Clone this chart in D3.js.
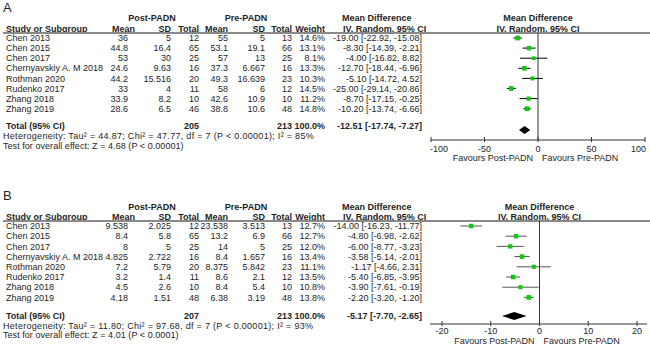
<!DOCTYPE html>
<html><head><meta charset="utf-8">
<script src="https://cdn.jsdelivr.net/npm/d3@7"></script>
<style>
body{margin:0;background:#fff}
text{font-family:"Liberation Sans",Arial,sans-serif;fill:#1e1e1e;font-size:9px}
.het{letter-spacing:0.3px}
.tst{letter-spacing:0.05px}
</style>
</head><body><svg id="c" width="650" height="346"></svg>
<script>
// ---------- data ----------
const studies = ["Chen 2013","Chen 2015","Chen 2017","Chernyavskiy A. M 2018","Rothman 2020","Rudenko 2017","Zhang 2018","Zhang 2019"];

// Panel A
const postMeanA = ["36","44.8","53","24.6","44.2","33","33.9","28.6"];
const postSdA   = ["5","16.4","30","9.63","15.516","4","8.2","6.5"];
const postNA    = [12,65,25,16,20,11,10,46];
const preMeanA  = ["55","53.1","57","37.3","49.3","58","42.6","38.8"];
const preSdA    = ["5","19.1","13","6.667","16.639","6","10.9","10.6"];
const preNA     = [13,66,25,16,23,12,10,48];
const weightA   = [14.6,13.1,8.1,13.3,10.3,14.5,11.2,14.8];
const mdA       = [-19.00,-8.30,-4.00,-12.70,-5.10,-25.00,-8.70,-10.20];
const lowA      = [-22.92,-14.39,-16.82,-18.44,-14.72,-29.14,-17.15,-13.74];
const highA     = [-15.08,-2.21,8.82,-6.96,4.52,-20.86,-0.25,-6.66];
const totalA    = {post:205, pre:213, weight:100.0, md:-12.51, low:-17.74, high:-7.27};
const hetA      = "Heterogeneity: Tau\u00b2 = 44.87; Chi\u00b2 = 47.77, df = 7 (P < 0.00001); I\u00b2 = 85%";
const testA     = "Test for overall effect: Z = 4.68 (P < 0.00001)";
const ticksA    = [-100,-50,0,50,100];

// Panel B
const postMeanB = ["9.538","8.4","8","4.825","7.2","3.2","4.5","4.18"];
const postSdB   = ["2.025","5.8","5","2.722","5.79","1.4","2.6","1.51"];
const postNB    = [12,65,25,16,20,11,10,48];
const preMeanB  = ["23.538","13.2","14","8.4","8.375","8.6","8.4","6.38"];
const preSdB    = ["3.513","6.9","5","1.657","5.842","2.1","5.4","3.19"];
const preNB     = [13,66,25,16,23,12,10,48];
const weightB   = [12.7,12.7,12.0,13.4,11.1,13.5,10.8,13.8];
const mdB       = [-14.00,-4.80,-6.00,-3.58,-1.17,-5.40,-3.90,-2.20];
const lowB      = [-16.23,-6.98,-8.77,-5.14,-4.66,-6.85,-7.61,-3.20];
const highB     = [-11.77,-2.62,-3.23,-2.01,2.31,-3.95,-0.19,-1.20];
const totalB    = {post:207, pre:213, weight:100.0, md:-5.17, low:-7.70, high:-2.65};
const hetB      = "Heterogeneity: Tau\u00b2 = 11.80; Chi\u00b2 = 97.68, df = 7 (P < 0.00001); I\u00b2 = 93%";
const testB     = "Test for overall effect: Z = 4.01 (P < 0.0001)";
const ticksB    = [-20,-10,0,10,20];

// ---------- drawing ----------
const svg = d3.select("#c");
const f2 = v => v.toFixed(2);
const ciText = (m,l,h) => `${f2(m)} [${f2(l)}, ${f2(h)}]`;

function panel(c){
  const g = svg.append("g").attr("transform",`translate(0,${c.y0})`);
  const x = d3.scaleLinear().domain(c.domain).range(c.range);
  const rows = d3.range(studies.length).map(i=>({
    study:studies[i], pm:c.pm[i], ps:c.ps[i], pn:c.pn[i], qm:c.qm[i], qs:c.qs[i], qn:c.qn[i],
    w:c.w[i], md:c.md[i], lo:c.lo[i], hi:c.hi[i]}));
  const y = d3.scaleLinear().domain([0,studies.length-1]).range([c.rowTop, c.rowTop+(studies.length-1)*c.step]);

  g.append("text").attr("x",3).attr("y",c.labelY).attr("dy","0.35em").style("font-size","13px").text(c.label);

  const hb = (t,xx,yy,anchor)=>g.append("text").attr("x",xx).attr("y",yy).attr("dy","0.35em")
      .attr("text-anchor",anchor).style("font-weight","bold").text(t);
  hb("Post-PADN",152,c.grpY,"middle");
  hb("Pre-PADN",246,c.grpY,"middle");
  hb("Mean Difference",342,c.grpY,"start");
  hb("Mean Difference",x(0),c.grpY,"middle");
  hb("Study or Subgroup",6,c.colY,"start");
  hb("Mean",135,c.colY,"end");
  hb("SD",171,c.colY,"end");
  hb("Total",199,c.colY,"end");
  hb("Mean",228,c.colY,"end");
  hb("SD",265,c.colY,"end");
  hb("Total",292,c.colY,"end");
  hb("Weight",325,c.colY,"end");
  hb("IV, Random, 95% CI",343,c.colY,"start");
  hb("IV, Random, 95% CI",x(0),c.colY,"middle");

  g.append("line").attr("x1",3).attr("x2",650).attr("y1",c.lineY).attr("y2",c.lineY)
    .attr("stroke","#8a8a8a").attr("stroke-width",1.8);

  const cols = [
    {k:"pm",x:128},{k:"ps",x:171},{k:"pn",x:199},{k:"qm",x:228},{k:"qs",x:265},{k:"qn",x:292}
  ];
  const rg = g.selectAll("g.row").data(rows).join("g").attr("class","row");
  rg.append("text").attr("x",6).attr("y",(d,i)=>y(i)).attr("dy","0.35em").text(d=>d.study);
  cols.forEach(cc=>{
    rg.append("text").attr("x",cc.x).attr("y",(d,i)=>y(i)).attr("dy","0.35em").attr("text-anchor","end").text(d=>d[cc.k]);
  });
  rg.append("text").attr("x",325).attr("y",(d,i)=>y(i)).attr("dy","0.35em").attr("text-anchor","end").text(d=>d.w.toFixed(1)+"%");
  rg.append("text").attr("x",422).attr("y",(d,i)=>y(i)).attr("dy","0.35em").attr("text-anchor","end").text(d=>ciText(d.md,d.lo,d.hi));

  // zero line
  g.append("line").attr("x1",x(0)).attr("x2",x(0)).attr("y1",c.lineY).attr("y2",c.axisY).attr("stroke","#333").attr("stroke-width",1);

  // CI lines and squares
  rg.append("line").attr("x1",d=>x(d.lo)).attr("x2",d=>x(d.hi)).attr("y1",(d,i)=>y(i)).attr("y2",(d,i)=>y(i))
    .attr("stroke",c.ciColor).attr("stroke-width",1);
  rg.append("rect").each(function(d,i){
    const s = 1.25*Math.sqrt(d.w);
    d3.select(this).attr("x",x(d.md)-s/2).attr("y",y(i)-s/2).attr("width",s).attr("height",s).attr("fill","#10c810");
  });

  // total row
  const t = c.total;
  const tb = (txt,xx,anchor)=>g.append("text").attr("x",xx).attr("y",c.totY).attr("dy","0.35em").attr("text-anchor",anchor).style("font-weight","bold").text(txt);
  tb("Total (95% CI)",6,"start");
  tb(t.post,199,"end");
  tb(t.pre,292,"end");
  tb(t.weight.toFixed(1)+"%",325,"end");
  tb(ciText(t.md,t.low,t.high),422,"end");
  const dy = c.diamondY;
  g.append("path").attr("d",`M${x(t.low)},${dy}L${x(t.md)},${dy-4}L${x(t.high)},${dy}L${x(t.md)},${dy+4}Z`).attr("fill","#000");

  g.append("text").attr("class","het").attr("x",3).attr("y",c.hetY).attr("dy","0.35em").text(c.het);
  g.append("text").attr("class","tst").attr("x",3).attr("y",c.testY).attr("dy","0.35em").text(c.test);

  // axis
  g.append("line").attr("x1",c.axisExt[0]).attr("x2",c.axisExt[1]).attr("y1",c.axisY).attr("y2",c.axisY).attr("stroke","#333").attr("stroke-width",1);
  const ax = g.append("g").attr("transform",`translate(0,${c.axisY})`);
  ax.selectAll("line.tk").data(c.ticks).join("line").attr("class","tk")
    .attr("x1",d=>x(d)).attr("x2",d=>x(d)).attr("y1",-3).attr("y2",2).attr("stroke","#333");
  const n = c.ticks.length;
  ax.selectAll("text.tl").data(c.ticks).join("text").attr("class","tl")
    .attr("x",(d,i)=> c.inset ? (i===0 ? x(d)-1 : i===n-1 ? x(d)+1 : x(d)) : x(d))
    .attr("y",c.tickDy).attr("dy","0.35em")
    .attr("text-anchor",(d,i)=> c.inset ? (i===0 ? "start" : i===n-1 ? "end" : "middle") : "middle")
    .text(d=>d);
  g.append("text").attr("x",x(0)-5).attr("y",c.favY).attr("dy","0.35em").attr("text-anchor","end").text("Favours Post-PADN");
  g.append("text").attr("x",x(0)+4).attr("y",c.favY).attr("dy","0.35em").attr("text-anchor","start").text("Favours Pre-PADN");
}

panel({y0:0,label:"A",labelY:7,grpY:18,colY:28.5,lineY:33,rowTop:38,step:10.1,totY:126,diamondY:130,hetY:136,testY:146,
  axisY:140,tickDy:9,favY:158,domain:[-100,100],range:[431,645],axisExt:[431,645],ticks:ticksA,inset:true,ciColor:"#000",
  pm:postMeanA,ps:postSdA,pn:postNA,qm:preMeanA,qs:preSdA,qn:preNA,w:weightA,md:mdA,lo:lowA,hi:highA,total:totalA,het:hetA,test:testA});

panel({y0:188,label:"B",labelY:7,grpY:19,colY:29,lineY:33,rowTop:38,step:10.2,totY:128,diamondY:128,hetY:138,testY:147,
  axisY:136,tickDy:7,favY:153,domain:[-20,20],range:[442,637],axisExt:[430,647],ticks:ticksB,inset:false,ciColor:"#555",
  pm:postMeanB,ps:postSdB,pn:postNB,qm:preMeanB,qs:preSdB,qn:preNB,w:weightB,md:mdB,lo:lowB,hi:highB,total:totalB,het:hetB,test:testB});
</script>
</body></html>
